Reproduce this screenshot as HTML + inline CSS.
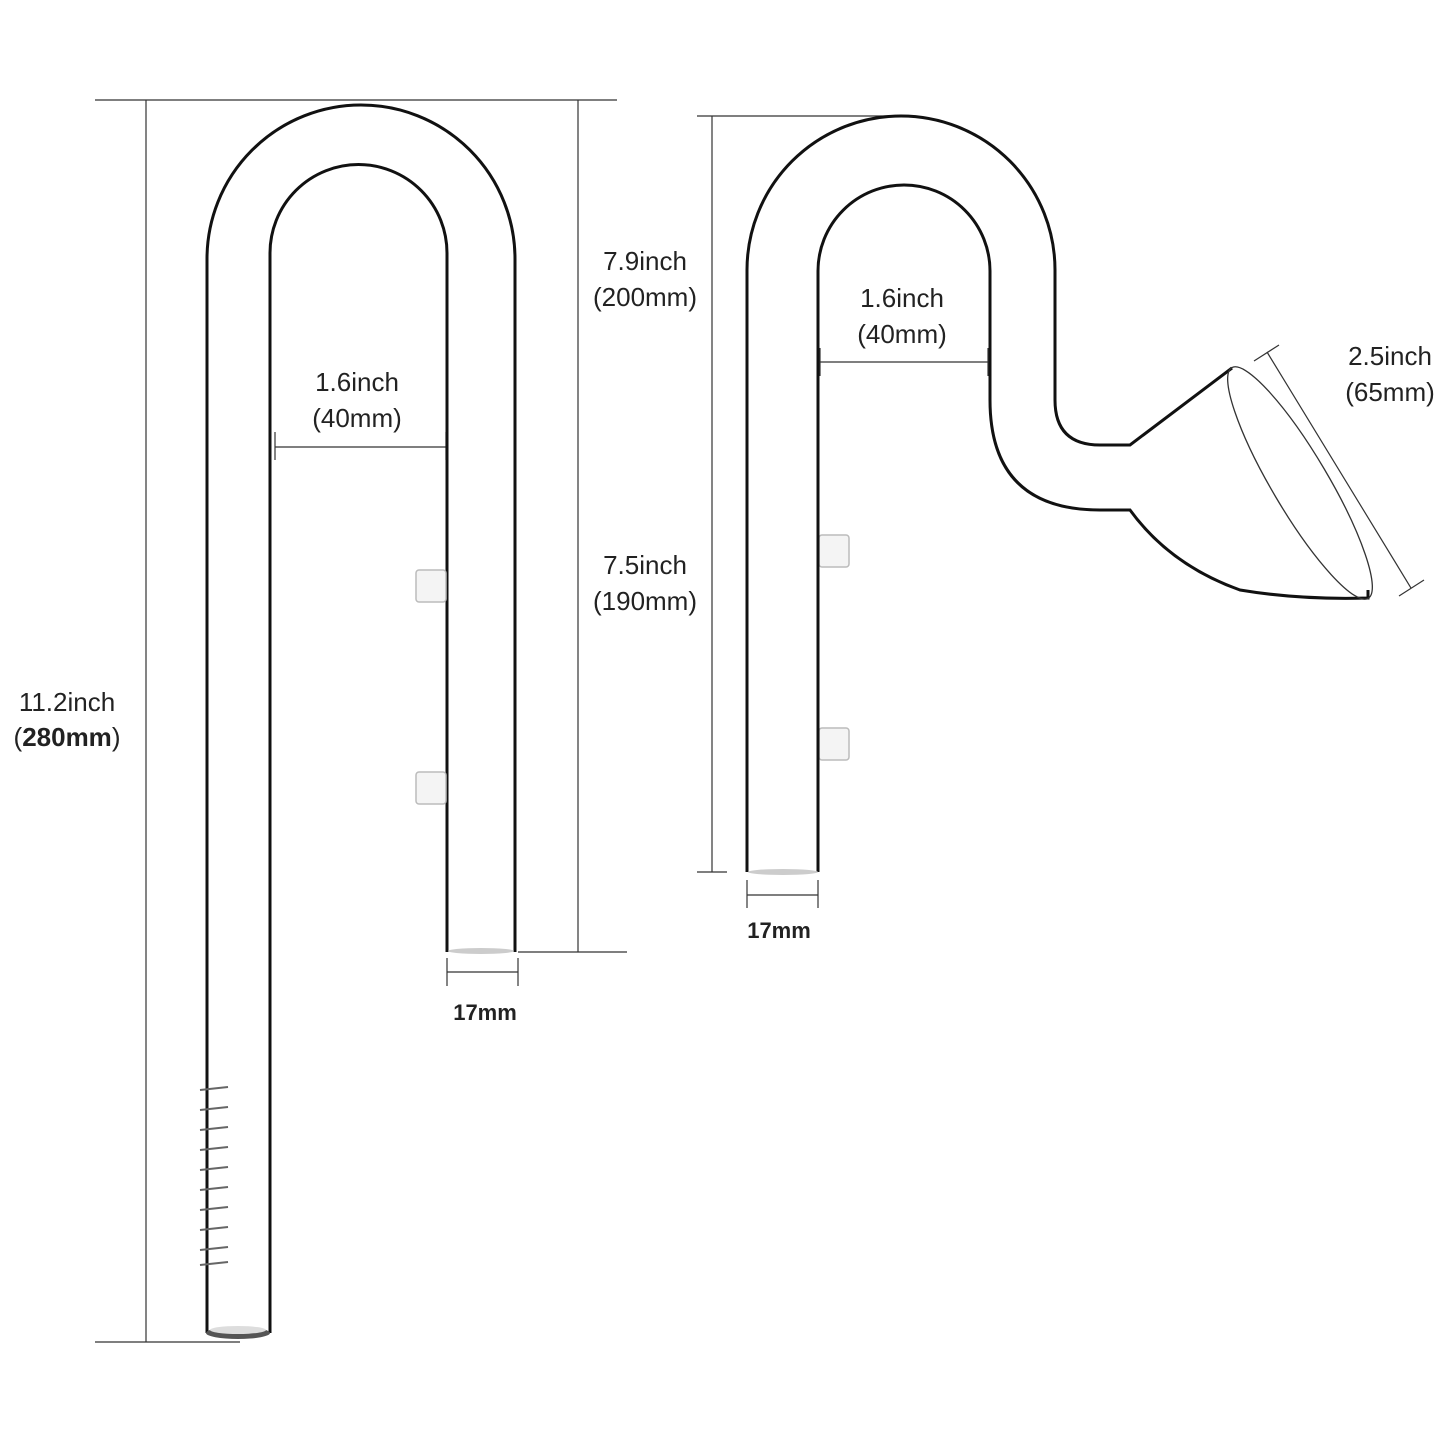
<!DOCTYPE html>
<html><head><meta charset="utf-8"><style>
html,body{margin:0;padding:0;background:#fff}
svg{display:block}
text{font-family:"Liberation Sans",sans-serif;font-size:26px;fill:#222;text-anchor:middle}
.b{font-weight:bold;font-size:22px}
</style></head><body>
<svg width="1445" height="1445" viewBox="0 0 1445 1445" xmlns="http://www.w3.org/2000/svg">
<g stroke="#333" stroke-width="1.2" fill="none">
<!-- left dims -->
<line x1="95" y1="100" x2="617" y2="100"/>
<line x1="146" y1="100" x2="146" y2="1342"/>
<line x1="95" y1="1342" x2="240" y2="1342"/>
<line x1="578" y1="100" x2="578" y2="952"/>
<line x1="518" y1="952" x2="627" y2="952"/>
<line x1="275" y1="447" x2="446" y2="447"/>
<line x1="275" y1="432" x2="275" y2="460"/><line x1="446" y1="432" x2="446" y2="460"/>
<line x1="447" y1="972" x2="518" y2="972"/>
<line x1="447" y1="958" x2="447" y2="986"/><line x1="518" y1="958" x2="518" y2="986"/>
<!-- right dims -->
<line x1="697" y1="116" x2="908" y2="116"/>
<line x1="712" y1="116" x2="712" y2="872"/>
<line x1="697" y1="872" x2="727" y2="872"/>
<line x1="820" y1="362" x2="988" y2="362"/>
<line x1="820" y1="348" x2="820" y2="376"/><line x1="988" y1="348" x2="988" y2="376"/>
<line x1="747" y1="895" x2="818" y2="895"/>
<line x1="747" y1="880" x2="747" y2="908"/><line x1="818" y1="880" x2="818" y2="908"/>
<line x1="1267" y1="352" x2="1411" y2="588"/>
<line x1="1254" y1="361" x2="1279" y2="345"/><line x1="1399" y1="596" x2="1424" y2="580"/>
</g>
<!-- left pipe -->
<g stroke="#111" stroke-width="3" fill="none">
<path d="M207,1333 L207,259 A154,154 0 0 1 515,259 L515,952"/>
<path d="M270,1333 L270,253 A88.5,88.5 0 0 1 447,253 L447,952"/>
</g>
<ellipse cx="238" cy="1333" rx="32" ry="6" fill="#555"/>
<ellipse cx="238" cy="1330" rx="28" ry="4" fill="#ddd"/>
<ellipse cx="481" cy="951" rx="33" ry="3" fill="#ccc"/>
<g fill="#f4f4f4" stroke="#bbb" stroke-width="1.5">
<rect x="416" y="570" width="30" height="32" rx="3"/>
<rect x="416" y="772" width="30" height="32" rx="3"/>
<rect x="819" y="535" width="30" height="32" rx="3"/>
<rect x="819" y="728" width="30" height="32" rx="3"/>
</g>
<g stroke="#666" stroke-width="2">
<line x1="200" y1="1090" x2="228" y2="1087"/><line x1="200" y1="1110" x2="228" y2="1107"/>
<line x1="200" y1="1130" x2="228" y2="1127"/><line x1="200" y1="1150" x2="228" y2="1147"/>
<line x1="200" y1="1170" x2="228" y2="1167"/><line x1="200" y1="1190" x2="228" y2="1187"/>
<line x1="200" y1="1210" x2="228" y2="1207"/><line x1="200" y1="1230" x2="228" y2="1227"/>
<line x1="200" y1="1250" x2="228" y2="1247"/><line x1="200" y1="1265" x2="228" y2="1262"/>
</g>
<!-- right pipe -->
<g stroke="#111" stroke-width="3" fill="none">
<path d="M747,872 L747,270 A154,154 0 0 1 1055,270 L1055,400 Q1055,445 1100,445 L1130,445 L1232,368"/>
<path d="M818,872 L818,271 A86,86 0 0 1 990,271 L990,400 Q990,510 1100,510 L1130,510 Q1170,565 1240,590 Q1300,600 1368,598 L1368,590"/>
</g>
<ellipse cx="1300" cy="483" rx="134" ry="28" transform="rotate(59.4 1300 483)" fill="none" stroke="#333" stroke-width="1.3"/>
<ellipse cx="783" cy="872" rx="35" ry="3" fill="#ccc"/>
<!-- labels -->
<text x="67" y="711">11.2inch</text>
<text x="67" y="746"><tspan>(</tspan><tspan font-weight="bold">280mm</tspan><tspan>)</tspan></text>
<text x="357" y="391">1.6inch</text><text x="357" y="427">(40mm)</text>
<text x="645" y="270">7.9inch</text><text x="645" y="306">(200mm)</text>
<text x="645" y="574">7.5inch</text><text x="645" y="610">(190mm)</text>
<text x="902" y="307">1.6inch</text><text x="902" y="343">(40mm)</text>
<text x="1390" y="365">2.5inch</text><text x="1390" y="401">(65mm)</text>
<text class="b" x="485" y="1020">17mm</text>
<text class="b" x="779" y="938">17mm</text>
</svg>
</body></html>
